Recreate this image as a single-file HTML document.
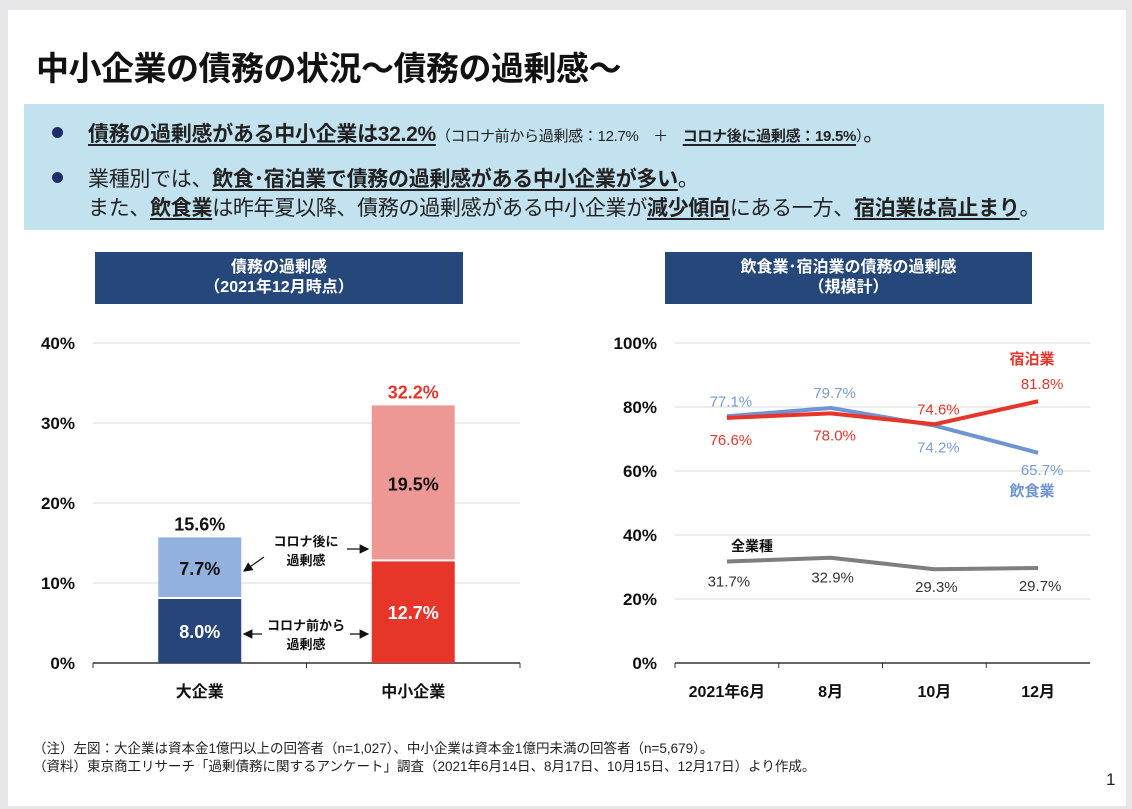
<!DOCTYPE html>
<html><head><meta charset="utf-8">
<style>
html,body{margin:0;padding:0;}
body{width:1132px;height:809px;background:#e6e6e8;font-family:"Liberation Sans","Noto Sans CJK JP",sans-serif;position:relative;overflow:hidden;}
.slide{position:absolute;left:8px;top:10px;width:1118px;height:796px;background:#fff;}
.title{position:absolute;left:36px;top:42px;font-size:33px;font-weight:bold;color:#111;letter-spacing:-0.5px;white-space:nowrap;}
.box{position:absolute;left:24px;top:104px;width:1080px;height:126px;background:#c3e2f0;}
.line{position:absolute;left:88px;font-size:21px;color:#222;white-space:nowrap;letter-spacing:-0.3px;}
.dot{position:absolute;left:52px;width:11px;height:11px;border-radius:50%;background:#1f2d6b;}
u{text-decoration-thickness:2px;text-underline-offset:3px;}
b{font-weight:bold;}
.small{font-size:15px;}
.hdr{position:absolute;top:252px;height:52px;background:#26477a;color:#fff;font-weight:bold;text-align:center;font-size:16px;line-height:20px;padding-top:6px;box-sizing:border-box;}
.note{position:absolute;left:33px;font-size:13.5px;color:#222;white-space:nowrap;}
svg{position:absolute;left:0;top:0;}
</style></head>
<body>
<div class="slide"></div>
<div class="title">中小企業の債務の状況～債務の過剰感～</div>
<div class="box"></div>
<div class="dot" style="top:127px"></div>
<div class="line" style="top:118px"><b><u>債務の過剰感がある中小企業は32.2%</u></b><span class="small">（コロナ前から過剰感：12.7%　＋　<b><u>コロナ後に過剰感：19.5%</u></b>）</span>。</div>
<div class="dot" style="top:172px"></div>
<div class="line" style="top:163px">業種別では、<b><u>飲食･宿泊業で債務の過剰感がある中小企業が多い</u></b>。</div>
<div class="line" style="top:192px">また、<b><u>飲食業</u></b>は昨年夏以降、債務の過剰感がある中小企業が<b><u>減少傾向</u></b>にある一方、<b><u>宿泊業は高止まり</u></b>。</div>

<div class="hdr" style="left:95px;width:368px">債務の過剰感<br>（2021年12月時点）</div>
<div class="hdr" style="left:665px;width:367px">飲食業･宿泊業の債務の過剰感<br>（規模計）</div>

<svg id="chart" width="1132" height="809"></svg>

<div class="note" style="top:737px">（注）左図：大企業は資本金1億円以上の回答者（n=1,027）、中小企業は資本金1億円未満の回答者（n=5,679）。</div>
<div class="note" style="top:755px">（資料）東京商工リサーチ「過剰債務に関するアンケート」調査（2021年6月14日、8月17日、10月15日、12月17日）より作成。</div>
<div style="position:absolute;left:1106px;top:770px;font-size:17px;color:#222">1</div>

<script>
const barCategories = ['大企業','中小企業'];
const preCovid = [8.0, 12.7];
const postCovid = [7.7, 19.5];
const barTotals = [15.6, 32.2];
const barTicks = [0,10,20,30,40];

const lineCategories = ['2021年6月','8月','10月','12月'];
const inshoku = [77.1, 79.7, 74.2, 65.7];
const shukuhaku = [76.6, 78.0, 74.6, 81.8];
const allIndustry = [31.7, 32.9, 29.3, 29.7];
const lineTicks = [0,20,40,60,80,100];

const svg = document.getElementById('chart');
const NS = 'http://www.w3.org/2000/svg';
function mk(tag, attrs, parent){const e=document.createElementNS(NS,tag);for(const k in attrs)e.setAttribute(k,attrs[k]);(parent||svg).appendChild(e);return e;}
function txt(x,y,s,attrs){const e=mk('text',Object.assign({x:x,y:y,'text-anchor':'middle','font-family':'"Liberation Sans","Noto Sans CJK JP",sans-serif'},attrs));e.textContent=s;return e;}

// ---- bar chart ----
const bL=93,bR=520,bT=343,bB=663,bMax=40;
const by=v=>bB-(v/bMax)*(bB-bT);
const bBand=(bR-bL)/barCategories.length;
const bx=i=>bL+bBand*(i+0.5);
barTicks.forEach(t=>{
  if(t>0){const g=mk('line',{x1:bL,x2:bR,y1:by(t),y2:by(t),stroke:'#d9d9d9','stroke-width':1});
  
  }
  const l=txt(bL-18,by(t)+6,t+'%',{'text-anchor':'end','font-size':17,'font-weight':'bold',fill:'#111'});
  
  
});
mk('line',{x1:bL,x2:bR,y1:bB,y2:bB,stroke:'#333','stroke-width':1.5});
[0,1,2].forEach(i=>mk('line',{x1:bL+bBand*i,x2:bL+bBand*i,y1:bB,y2:bB+5,stroke:'#333'}));
const bw=83;
const preColors=['#27457a','#e8352a'], postColors=['#92b1de','#ee9896'];
const preText=['#fff','#fff'];
barCategories.forEach((c,i)=>{
  const x=bx(i)-bw/2;
  const r1=mk('rect',{x:x,y:by(preCovid[i]),width:bw,height:bB-by(preCovid[i]),fill:preColors[i]});
  
  
  const top=preCovid[i]+postCovid[i];
  const r2=mk('rect',{x:x,y:by(top),width:bw,height:by(preCovid[i])-by(top)-2,fill:postColors[i]});
  
  
  txt(bx(i),(by(preCovid[i])+bB)/2+7,preCovid[i].toFixed(1)+'%',{'font-size':18,'font-weight':'bold',fill:preText[i]});
  txt(bx(i),(by(top)+by(preCovid[i]))/2+7,postCovid[i].toFixed(1)+'%',{'font-size':18,'font-weight':'bold',fill:'#111'});
  const t=txt(bx(i),by(top)-7,barTotals[i].toFixed(1)+'%',{'font-size':18,'font-weight':'bold',fill:i==1?'#e8352a':'#111'});
  
  
  const cl=txt(bx(i),697,c,{'font-size':16,'font-weight':'bold',fill:'#111'});
  
  
});
// annotations
txt(306,546,'コロナ後に',{'font-size':13,'font-weight':'bold',fill:'#111'});
txt(306,565,'過剰感',{'font-size':13,'font-weight':'bold',fill:'#111'});
txt(306,630,'コロナ前から',{'font-size':13,'font-weight':'bold',fill:'#111'});
txt(306,649,'過剰感',{'font-size':13,'font-weight':'bold',fill:'#111'});
mk('defs',{}).innerHTML='<marker id="ah" markerWidth="8" markerHeight="8" refX="7" refY="4" orient="auto"><path d="M0,0 L8,4 L0,8 z" fill="#111"/></marker>';
[[264,557,244,571],[347,549,368,549],[262,634,244,634],[350,634,368,634]].forEach(a=>mk('line',{x1:a[0],y1:a[1],x2:a[2],y2:a[3],stroke:'#111','stroke-width':1.2,'marker-end':'url(#ah)'}));

// ---- line chart ----
const lL=675,lR=1090,lT=343,lB=663,lMax=100;
const ly=v=>lB-(v/lMax)*(lB-lT);
const lBand=(lR-lL)/lineCategories.length;
const lx=i=>lL+lBand*(i+0.5);
lineTicks.forEach(t=>{
  if(t>0){const g=mk('line',{x1:lL,x2:lR,y1:ly(t),y2:ly(t),stroke:'#d9d9d9','stroke-width':1});
  
  }
  const l=txt(lL-18,ly(t)+6,t+'%',{'text-anchor':'end','font-size':17,'font-weight':'bold',fill:'#111'});
  
  
});
mk('line',{x1:lL,x2:lR,y1:lB,y2:lB,stroke:'#333','stroke-width':1.5});
[0,1,2,3].forEach(i=>mk('line',{x1:lL+lBand*i,x2:lL+lBand*i,y1:lB,y2:lB+5,stroke:'#333'}));
lineCategories.forEach((c,i)=>{
  const l=txt(lx(i),697,c,{'font-size':16,'font-weight':'bold',fill:'#111'});
  
  
});
function series(vals,color,name){
  const p=mk('polyline',{points:vals.map((v,i)=>lx(i)+','+ly(v)).join(' '),fill:'none',stroke:color,'stroke-width':4,'stroke-linejoin':'round'});
  
  
}
series(allIndustry,'#7f7f7f','line-all-industry');
series(inshoku,'#6e94d2','line-inshoku');
series(shukuhaku,'#e8352a','line-shukuhaku');
const inOff=[-15,-15,22,17], shOff=[22,22,-15,-17];
inshoku.forEach((v,i)=>txt(lx(i)+4,ly(v)+inOff[i]+5,v.toFixed(1)+'%',{'font-size':15,fill:'#7a9bd4'}));
shukuhaku.forEach((v,i)=>txt(lx(i)+4,ly(v)+shOff[i]+5,v.toFixed(1)+'%',{'font-size':15,fill:'#e8352a'}));
const alOff=[20,20,18,18];
allIndustry.forEach((v,i)=>txt(lx(i)+2,ly(v)+alOff[i]+5,v.toFixed(1)+'%',{'font-size':15,fill:'#333'}));
txt(1032,364,'宿泊業',{'font-size':15,'font-weight':'bold',fill:'#e8352a'});
txt(1032,496,'飲食業',{'font-size':15,'font-weight':'bold',fill:'#6e94d2'});
txt(752,551,'全業種',{'font-size':14,'font-weight':'bold',fill:'#111'});
</script>
</body></html>
